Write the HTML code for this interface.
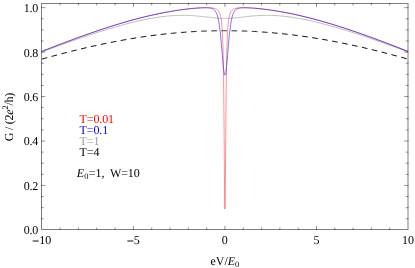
<!DOCTYPE html>
<html><head><meta charset="utf-8"><title>plot</title>
<style>html,body{margin:0;padding:0;background:#fff;width:415px;height:268px;overflow:hidden;font-family:"Liberation Serif",serif}</style>
</head><body>
<svg width="415" height="268" viewBox="0 0 415 268" style="display:block;position:absolute;left:0;top:0;will-change:transform">
<rect width="415" height="268" fill="#fff"/>
<defs><clipPath id="c"><rect x="41.50" y="3.50" width="366.50" height="226.00"/></clipPath></defs>
<g clip-path="url(#c)" fill="none" stroke-linejoin="round">
<path d="M41.85 59.11L41.95 59.08L44.95 58.25L47.95 57.42L50.95 56.61L53.95 55.80L56.95 55L59.95 54.21L62.95 53.43L65.95 52.66L68.95 51.90L71.95 51.15L74.95 50.41L77.95 49.67L80.95 48.95L83.95 48.24L86.95 47.54L89.95 46.86L92.95 46.18L95.95 45.52L98.95 44.86L101.95 44.22L104.95 43.60L107.95 42.98L110.95 42.38L113.95 41.80L116.95 41.22L119.95 40.66L122.95 40.11L125.95 39.58L128.95 39.06L131.95 38.56L134.95 38.07L137.95 37.59L140.95 37.14L143.95 36.69L146.95 36.26L149.95 35.85L152.95 35.45L155.95 35.06L158.95 34.70L161.95 34.35L164.95 34.01L166.45 33.85L167.95 33.69L169.45 33.54L170.95 33.39L172.45 33.24L173.95 33.10L175.45 32.96L176.95 32.83L178.45 32.70L179.95 32.57L181.45 32.45L182.95 32.33L184.45 32.22L185.95 32.11L187.45 32L188.95 31.90L190.45 31.80L191.95 31.71L193.45 31.62L194.95 31.54L195.45 31.51L195.95 31.48L196.45 31.46L196.95 31.43L197.45 31.40L197.95 31.38L198.45 31.35L198.95 31.33L199.45 31.31L199.95 31.28L200.45 31.26L200.95 31.24L201.45 31.22L201.95 31.19L202.45 31.17L202.95 31.15L203.45 31.13L203.95 31.11L204.45 31.09L204.95 31.08L205.45 31.06L205.95 31.04L206.45 31.02L206.95 31.01L207.45 30.99L207.95 30.97L208.45 30.96L208.95 30.94L209.45 30.93L209.95 30.91L210.45 30.90L210.95 30.89L211.45 30.88L211.95 30.86L212.45 30.85L212.95 30.84L213.45 30.83L213.95 30.82L214.45 30.81L214.95 30.80L215.45 30.79L215.95 30.78L216.45 30.77L216.95 30.77L217.20 30.76L217.45 30.76L217.70 30.76L217.95 30.75L218.20 30.75L218.45 30.75L218.70 30.74L218.95 30.74L219.20 30.74L219.45 30.74L219.70 30.73L219.95 30.73L220.20 30.73L220.45 30.73L220.70 30.72L220.95 30.72L221.20 30.72L221.45 30.72L221.70 30.72L221.95 30.72L222.05 30.72L222.15 30.71L222.25 30.71L222.35 30.71L222.45 30.71L222.55 30.71L222.65 30.71L222.75 30.71L222.85 30.71L222.95 30.71L223.05 30.71L223.15 30.71L223.25 30.71L223.35 30.71L223.45 30.71L223.55 30.71L223.65 30.71L223.75 30.71L223.85 30.71L223.95 30.71L224.05 30.71L224.15 30.71L224.25 30.71L224.35 30.71L224.45 30.71L224.55 30.71L224.65 30.71L224.75 30.71L224.85 30.71L224.95 30.71L225.05 30.71L225.15 30.71L225.25 30.71L225.35 30.71L225.45 30.71L225.55 30.71L225.65 30.71L225.75 30.71L225.85 30.71L225.95 30.71L226.05 30.71L226.15 30.71L226.25 30.71L226.35 30.71L226.45 30.71L226.55 30.71L226.65 30.71L226.75 30.71L226.85 30.71L226.95 30.71L227.05 30.71L227.15 30.71L227.25 30.71L227.35 30.71L227.45 30.71L227.55 30.71L227.65 30.71L227.75 30.71L227.85 30.72L227.95 30.72L228.20 30.72L228.45 30.72L228.70 30.72L228.95 30.72L229.20 30.72L229.45 30.73L229.70 30.73L229.95 30.73L230.20 30.73L230.45 30.74L230.70 30.74L230.95 30.74L231.20 30.74L231.45 30.75L231.70 30.75L231.95 30.75L232.20 30.76L232.45 30.76L232.70 30.76L232.95 30.77L233.45 30.77L233.95 30.78L234.45 30.79L234.95 30.80L235.45 30.81L235.95 30.82L236.45 30.83L236.95 30.84L237.45 30.85L237.95 30.86L238.45 30.88L238.95 30.89L239.45 30.90L239.95 30.91L240.45 30.93L240.95 30.94L241.45 30.96L241.95 30.97L242.45 30.99L242.95 31.01L243.45 31.02L243.95 31.04L244.45 31.06L244.95 31.08L245.45 31.09L245.95 31.11L246.45 31.13L246.95 31.15L247.45 31.17L247.95 31.19L248.45 31.22L248.95 31.24L249.45 31.26L249.95 31.28L250.45 31.31L250.95 31.33L251.45 31.35L251.95 31.38L252.45 31.40L252.95 31.43L253.45 31.46L253.95 31.48L254.45 31.51L254.95 31.54L256.45 31.62L257.95 31.71L259.45 31.80L260.95 31.90L262.45 32L263.95 32.11L265.45 32.22L266.95 32.33L268.45 32.45L269.95 32.57L271.45 32.70L272.95 32.83L274.45 32.96L275.95 33.10L277.45 33.24L278.95 33.39L280.45 33.54L281.95 33.69L283.45 33.85L284.95 34.01L287.95 34.35L290.95 34.70L293.95 35.06L296.95 35.45L299.95 35.85L302.95 36.26L305.95 36.69L308.95 37.14L311.95 37.59L314.95 38.07L317.95 38.56L320.95 39.06L323.95 39.58L326.95 40.11L329.95 40.66L332.95 41.22L335.95 41.80L338.95 42.38L341.95 42.98L344.95 43.60L347.95 44.22L350.95 44.86L353.95 45.52L356.95 46.18L359.95 46.86L362.95 47.54L365.95 48.24L368.95 48.95L371.95 49.67L374.95 50.41L377.95 51.15L380.95 51.90L383.95 52.66L386.95 53.43L389.95 54.21L392.95 55L395.95 55.80L398.95 56.61L401.95 57.42L404.95 58.25L407.95 59.08L408.05 59.11" stroke="#000" stroke-width="0.95" stroke-dasharray="5.65 4.48"/>
<path d="M41.85 52.05L41.95 52.01L44.95 50.88L47.95 49.76L50.95 48.65L53.95 47.54L56.95 46.43L59.95 45.33L62.95 44.24L65.95 43.16L68.95 42.09L71.95 41.02L74.95 39.97L77.95 38.92L80.95 37.89L83.95 36.86L86.95 35.85L89.95 34.85L92.95 33.86L95.95 32.89L98.95 31.93L101.95 30.98L104.95 30.05L107.95 29.14L110.95 28.24L113.95 27.37L116.95 26.51L119.95 25.67L122.95 24.85L125.95 24.05L128.95 23.28L131.95 22.53L134.95 21.81L137.95 21.11L140.95 20.44L143.95 19.80L146.95 19.19L149.95 18.62L152.95 18.08L155.95 17.58L158.95 17.13L161.95 16.71L164.95 16.35L166.45 16.18L167.95 16.03L169.45 15.89L170.95 15.77L172.45 15.66L173.95 15.56L175.45 15.48L176.95 15.41L178.45 15.36L179.95 15.33L181.45 15.31L182.95 15.30L184.45 15.32L185.95 15.34L187.45 15.39L188.95 15.45L190.45 15.52L191.95 15.61L193.45 15.71L194.95 15.83L195.45 15.87L195.95 15.91L196.45 15.95L196.95 16L197.45 16.04L197.95 16.09L198.45 16.14L198.95 16.19L199.45 16.24L199.95 16.29L200.45 16.34L200.95 16.40L201.45 16.45L201.95 16.50L202.45 16.56L202.95 16.61L203.45 16.67L203.95 16.72L204.45 16.78L204.95 16.84L205.45 16.89L205.95 16.95L206.45 17.01L206.95 17.06L207.45 17.12L207.95 17.18L208.45 17.23L208.95 17.29L209.45 17.34L209.95 17.40L210.45 17.45L210.95 17.50L211.45 17.56L211.95 17.61L212.45 17.66L212.95 17.71L213.45 17.75L213.95 17.80L214.45 17.85L214.95 17.89L215.45 17.93L215.95 17.97L216.45 18.01L216.95 18.05L217.20 18.07L217.45 18.08L217.70 18.10L217.95 18.12L218.20 18.13L218.45 18.15L218.70 18.17L218.95 18.18L219.20 18.19L219.45 18.21L219.70 18.22L219.95 18.23L220.20 18.25L220.45 18.26L220.70 18.27L220.95 18.28L221.20 18.29L221.45 18.30L221.70 18.31L221.95 18.32L222.05 18.32L222.15 18.32L222.25 18.33L222.35 18.33L222.45 18.33L222.55 18.34L222.65 18.34L222.75 18.34L222.85 18.34L222.95 18.35L223.05 18.35L223.15 18.35L223.25 18.35L223.35 18.36L223.45 18.36L223.55 18.36L223.65 18.36L223.75 18.36L223.85 18.36L223.95 18.37L224.05 18.37L224.15 18.37L224.25 18.37L224.35 18.37L224.45 18.37L224.55 18.37L224.65 18.37L224.75 18.38L224.85 18.38L224.95 18.38L225.05 18.38L225.15 18.38L225.25 18.37L225.35 18.37L225.45 18.37L225.55 18.37L225.65 18.37L225.75 18.37L225.85 18.37L225.95 18.37L226.05 18.36L226.15 18.36L226.25 18.36L226.35 18.36L226.45 18.36L226.55 18.36L226.65 18.35L226.75 18.35L226.85 18.35L226.95 18.35L227.05 18.34L227.15 18.34L227.25 18.34L227.35 18.34L227.45 18.33L227.55 18.33L227.65 18.33L227.75 18.32L227.85 18.32L227.95 18.32L228.20 18.31L228.45 18.30L228.70 18.29L228.95 18.28L229.20 18.27L229.45 18.26L229.70 18.25L229.95 18.23L230.20 18.22L230.45 18.21L230.70 18.19L230.95 18.18L231.20 18.17L231.45 18.15L231.70 18.13L231.95 18.12L232.20 18.10L232.45 18.08L232.70 18.07L232.95 18.05L233.45 18.01L233.95 17.97L234.45 17.93L234.95 17.89L235.45 17.85L235.95 17.80L236.45 17.75L236.95 17.71L237.45 17.66L237.95 17.61L238.45 17.56L238.95 17.50L239.45 17.45L239.95 17.40L240.45 17.34L240.95 17.29L241.45 17.23L241.95 17.18L242.45 17.12L242.95 17.06L243.45 17.01L243.95 16.95L244.45 16.89L244.95 16.84L245.45 16.78L245.95 16.72L246.45 16.67L246.95 16.61L247.45 16.56L247.95 16.50L248.45 16.45L248.95 16.40L249.45 16.34L249.95 16.29L250.45 16.24L250.95 16.19L251.45 16.14L251.95 16.09L252.45 16.04L252.95 16L253.45 15.95L253.95 15.91L254.45 15.87L254.95 15.83L256.45 15.71L257.95 15.61L259.45 15.52L260.95 15.45L262.45 15.39L263.95 15.34L265.45 15.32L266.95 15.30L268.45 15.31L269.95 15.33L271.45 15.36L272.95 15.41L274.45 15.48L275.95 15.56L277.45 15.66L278.95 15.77L280.45 15.89L281.95 16.03L283.45 16.18L284.95 16.35L287.95 16.71L290.95 17.13L293.95 17.58L296.95 18.08L299.95 18.62L302.95 19.19L305.95 19.80L308.95 20.44L311.95 21.11L314.95 21.81L317.95 22.53L320.95 23.28L323.95 24.05L326.95 24.85L329.95 25.67L332.95 26.51L335.95 27.37L338.95 28.24L341.95 29.14L344.95 30.05L347.95 30.98L350.95 31.93L353.95 32.89L356.95 33.86L359.95 34.85L362.95 35.85L365.95 36.86L368.95 37.89L371.95 38.92L374.95 39.97L377.95 41.02L380.95 42.09L383.95 43.16L386.95 44.24L389.95 45.33L392.95 46.43L395.95 47.54L398.95 48.65L401.95 49.76L404.95 50.88L407.95 52.01L408.05 52.05" stroke="#949494" stroke-width="0.6"/>
<path d="M41.85 51.39L41.95 51.35L44.95 50.18L47.95 49.01L50.95 47.85L53.95 46.69L56.95 45.54L59.95 44.39L62.95 43.25L65.95 42.12L68.95 40.99L71.95 39.88L74.95 38.77L77.95 37.67L80.95 36.58L83.95 35.51L86.95 34.44L89.95 33.38L92.95 32.34L95.95 31.31L98.95 30.29L101.95 29.29L104.95 28.30L107.95 27.33L110.95 26.37L113.95 25.43L116.95 24.50L119.95 23.60L122.95 22.71L125.95 21.83L128.95 20.98L131.95 20.15L134.95 19.34L137.95 18.55L140.95 17.78L143.95 17.03L146.95 16.30L149.95 15.60L152.95 14.92L155.95 14.27L158.95 13.64L161.95 13.03L164.95 12.45L166.45 12.17L167.95 11.90L169.45 11.63L170.95 11.37L172.45 11.12L173.95 10.87L175.45 10.64L176.95 10.40L178.45 10.18L179.95 9.96L181.45 9.75L182.95 9.55L184.45 9.36L185.95 9.17L187.45 8.99L188.95 8.82L190.45 8.66L191.95 8.51L193.45 8.37L194.95 8.24L195.45 8.19L195.95 8.15L196.45 8.11L196.95 8.08L197.45 8.04L197.95 8L198.45 7.97L198.95 7.93L199.45 7.90L199.95 7.87L200.45 7.84L200.95 7.82L201.45 7.79L201.95 7.77L202.45 7.75L202.95 7.73L203.45 7.71L203.95 7.69L204.45 7.68L204.95 7.67L205.45 7.66L205.95 7.65L206.45 7.65L206.95 7.65L207.45 7.66L207.95 7.66L208.45 7.68L208.95 7.69L209.45 7.71L209.95 7.74L210.45 7.77L210.95 7.82L211.45 7.86L211.95 7.92L212.45 7.99L212.95 8.07L213.45 8.17L213.95 8.28L214.45 8.41L214.95 8.57L215.45 8.75L215.95 8.97L216.45 9.24L216.95 9.55L217.20 9.74L217.45 9.94L217.70 10.16L217.95 10.41L218.20 10.69L218.45 11L218.70 11.35L218.95 11.74L219.20 12.19L219.45 12.70L219.70 13.28L219.95 13.95L220.20 14.72L220.45 15.62L220.70 16.68L220.95 17.94L221.20 19.45L221.45 21.27L221.70 23.50L221.95 26.27L222.05 27.56L222.15 28.99L222.25 30.55L222.35 32.28L222.45 34.19L222.55 36.32L222.65 38.68L222.75 41.32L222.85 44.28L222.95 47.59L223.05 51.31L223.15 55.50L223.25 60.23L223.35 65.56L223.45 71.57L223.55 78.34L223.65 85.94L223.75 94.43L223.85 103.85L223.95 114.19L224.05 125.40L224.15 137.33L224.25 149.74L224.35 162.27L224.45 174.44L224.55 185.67L224.65 195.34L224.75 202.79L224.85 207.51L224.95 209.13L225.05 207.51L225.15 202.79L225.25 195.34L225.35 185.67L225.45 174.44L225.55 162.27L225.65 149.74L225.75 137.33L225.85 125.40L225.95 114.19L226.05 103.85L226.15 94.43L226.25 85.94L226.35 78.34L226.45 71.57L226.55 65.56L226.65 60.23L226.75 55.50L226.85 51.31L226.95 47.59L227.05 44.28L227.15 41.32L227.25 38.68L227.35 36.32L227.45 34.19L227.55 32.28L227.65 30.55L227.75 28.99L227.85 27.56L227.95 26.27L228.20 23.50L228.45 21.27L228.70 19.45L228.95 17.94L229.20 16.68L229.45 15.62L229.70 14.72L229.95 13.95L230.20 13.28L230.45 12.70L230.70 12.19L230.95 11.74L231.20 11.35L231.45 11L231.70 10.69L231.95 10.41L232.20 10.16L232.45 9.94L232.70 9.74L232.95 9.55L233.45 9.24L233.95 8.97L234.45 8.75L234.95 8.57L235.45 8.41L235.95 8.28L236.45 8.17L236.95 8.07L237.45 7.99L237.95 7.92L238.45 7.86L238.95 7.82L239.45 7.77L239.95 7.74L240.45 7.71L240.95 7.69L241.45 7.68L241.95 7.66L242.45 7.66L242.95 7.65L243.45 7.65L243.95 7.65L244.45 7.66L244.95 7.67L245.45 7.68L245.95 7.69L246.45 7.71L246.95 7.73L247.45 7.75L247.95 7.77L248.45 7.79L248.95 7.82L249.45 7.84L249.95 7.87L250.45 7.90L250.95 7.93L251.45 7.97L251.95 8L252.45 8.04L252.95 8.08L253.45 8.11L253.95 8.15L254.45 8.19L254.95 8.24L256.45 8.37L257.95 8.51L259.45 8.66L260.95 8.82L262.45 8.99L263.95 9.17L265.45 9.36L266.95 9.55L268.45 9.75L269.95 9.96L271.45 10.18L272.95 10.40L274.45 10.64L275.95 10.87L277.45 11.12L278.95 11.37L280.45 11.63L281.95 11.90L283.45 12.17L284.95 12.45L287.95 13.03L290.95 13.64L293.95 14.27L296.95 14.92L299.95 15.60L302.95 16.30L305.95 17.03L308.95 17.78L311.95 18.55L314.95 19.34L317.95 20.15L320.95 20.98L323.95 21.83L326.95 22.71L329.95 23.60L332.95 24.50L335.95 25.43L338.95 26.37L341.95 27.33L344.95 28.30L347.95 29.29L350.95 30.29L353.95 31.31L356.95 32.34L359.95 33.38L362.95 34.44L365.95 35.51L368.95 36.58L371.95 37.67L374.95 38.77L377.95 39.88L380.95 40.99L383.95 42.12L386.95 43.25L389.95 44.39L392.95 45.54L395.95 46.69L398.95 47.85L401.95 49.01L404.95 50.18L407.95 51.35L408.05 51.39" stroke="#ff0000" stroke-width="0.44"/>
<path d="M41.85 51.39L41.95 51.35L44.95 50.18L47.95 49.01L50.95 47.85L53.95 46.69L56.95 45.54L59.95 44.39L62.95 43.25L65.95 42.12L68.95 41L71.95 39.88L74.95 38.78L77.95 37.68L80.95 36.59L83.95 35.51L86.95 34.45L89.95 33.39L92.95 32.35L95.95 31.32L98.95 30.30L101.95 29.30L104.95 28.31L107.95 27.34L110.95 26.38L113.95 25.44L116.95 24.51L119.95 23.61L122.95 22.72L125.95 21.85L128.95 20.99L131.95 20.16L134.95 19.35L137.95 18.56L140.95 17.79L143.95 17.04L146.95 16.32L149.95 15.61L152.95 14.94L155.95 14.28L158.95 13.65L161.95 13.05L164.95 12.47L166.45 12.19L167.95 11.91L169.45 11.65L170.95 11.39L172.45 11.14L173.95 10.89L175.45 10.65L176.95 10.42L178.45 10.20L179.95 9.98L181.45 9.77L182.95 9.57L184.45 9.38L185.95 9.19L187.45 9.01L188.95 8.85L190.45 8.69L191.95 8.53L193.45 8.39L194.95 8.26L195.45 8.22L195.95 8.18L196.45 8.14L196.95 8.10L197.45 8.07L197.95 8.03L198.45 8L198.95 7.97L199.45 7.94L199.95 7.91L200.45 7.88L200.95 7.86L201.45 7.83L201.95 7.81L202.45 7.79L202.95 7.78L203.45 7.76L203.95 7.75L204.45 7.75L204.95 7.74L205.45 7.74L205.95 7.74L206.45 7.75L206.95 7.77L207.45 7.79L207.95 7.81L208.45 7.85L208.95 7.90L209.45 7.95L209.95 8.02L210.45 8.11L210.95 8.22L211.45 8.35L211.95 8.52L212.45 8.71L212.95 8.96L213.45 9.26L213.95 9.62L214.45 10.07L214.95 10.62L215.45 11.30L215.95 12.13L216.45 13.16L216.95 14.41L217.20 15.14L217.45 15.95L217.70 16.84L217.95 17.82L218.20 18.91L218.45 20.09L218.70 21.40L218.95 22.83L219.20 24.38L219.45 26.08L219.70 27.92L219.95 29.90L220.20 32.04L220.45 34.32L220.70 36.75L220.95 39.32L221.20 42.02L221.45 44.83L221.70 47.73L221.95 50.70L222.05 51.89L222.15 53.09L222.25 54.29L222.35 55.48L222.45 56.67L222.55 57.85L222.65 59.02L222.75 60.17L222.85 61.30L222.95 62.42L223.05 63.51L223.15 64.56L223.25 65.59L223.35 66.58L223.45 67.54L223.55 68.45L223.65 69.31L223.75 70.12L223.85 70.89L223.95 71.60L224.05 72.24L224.15 72.83L224.25 73.36L224.35 73.82L224.45 74.21L224.55 74.54L224.65 74.79L224.75 74.97L224.85 75.08L224.95 75.12L225.05 75.08L225.15 74.97L225.25 74.79L225.35 74.54L225.45 74.21L225.55 73.82L225.65 73.36L225.75 72.83L225.85 72.24L225.95 71.60L226.05 70.89L226.15 70.12L226.25 69.31L226.35 68.45L226.45 67.54L226.55 66.58L226.65 65.59L226.75 64.56L226.85 63.51L226.95 62.42L227.05 61.30L227.15 60.17L227.25 59.02L227.35 57.85L227.45 56.67L227.55 55.48L227.65 54.29L227.75 53.09L227.85 51.89L227.95 50.70L228.20 47.73L228.45 44.83L228.70 42.02L228.95 39.32L229.20 36.75L229.45 34.32L229.70 32.04L229.95 29.90L230.20 27.92L230.45 26.08L230.70 24.38L230.95 22.83L231.20 21.40L231.45 20.09L231.70 18.91L231.95 17.82L232.20 16.84L232.45 15.95L232.70 15.14L232.95 14.41L233.45 13.16L233.95 12.13L234.45 11.30L234.95 10.62L235.45 10.07L235.95 9.62L236.45 9.26L236.95 8.96L237.45 8.71L237.95 8.52L238.45 8.35L238.95 8.22L239.45 8.11L239.95 8.02L240.45 7.95L240.95 7.90L241.45 7.85L241.95 7.81L242.45 7.79L242.95 7.77L243.45 7.75L243.95 7.74L244.45 7.74L244.95 7.74L245.45 7.75L245.95 7.75L246.45 7.76L246.95 7.78L247.45 7.79L247.95 7.81L248.45 7.83L248.95 7.86L249.45 7.88L249.95 7.91L250.45 7.94L250.95 7.97L251.45 8L251.95 8.03L252.45 8.07L252.95 8.10L253.45 8.14L253.95 8.18L254.45 8.22L254.95 8.26L256.45 8.39L257.95 8.53L259.45 8.69L260.95 8.85L262.45 9.01L263.95 9.19L265.45 9.38L266.95 9.57L268.45 9.77L269.95 9.98L271.45 10.20L272.95 10.42L274.45 10.65L275.95 10.89L277.45 11.14L278.95 11.39L280.45 11.65L281.95 11.91L283.45 12.19L284.95 12.47L287.95 13.05L290.95 13.65L293.95 14.28L296.95 14.94L299.95 15.61L302.95 16.32L305.95 17.04L308.95 17.79L311.95 18.56L314.95 19.35L317.95 20.16L320.95 20.99L323.95 21.85L326.95 22.72L329.95 23.61L332.95 24.51L335.95 25.44L338.95 26.38L341.95 27.34L344.95 28.31L347.95 29.30L350.95 30.30L353.95 31.32L356.95 32.35L359.95 33.39L362.95 34.45L365.95 35.51L368.95 36.59L371.95 37.68L374.95 38.78L377.95 39.88L380.95 41L383.95 42.12L386.95 43.25L389.95 44.39L392.95 45.54L395.95 46.69L398.95 47.85L401.95 49.01L404.95 50.18L407.95 51.35L408.05 51.39" stroke="#0000ff" stroke-width="0.54"/>
</g>
<g stroke="#000" stroke-opacity="0.5" stroke-width="1" fill="none">
<rect x="41.50" y="3.50" width="366.50" height="226.00"/>
</g>
<path d="M60.16 230.00 v-2.50 M60.16 3.00 v2.50 M78.47 230.00 v-2.50 M78.47 3.00 v2.50 M96.78 230.00 v-2.50 M96.78 3.00 v2.50 M115.09 230.00 v-2.50 M115.09 3.00 v2.50 M133.40 230.00 v-4.10 M133.40 3.00 v4.10 M151.71 230.00 v-2.50 M151.71 3.00 v2.50 M170.02 230.00 v-2.50 M170.02 3.00 v2.50 M188.33 230.00 v-2.50 M188.33 3.00 v2.50 M206.64 230.00 v-2.50 M206.64 3.00 v2.50 M224.95 230.00 v-4.10 M224.95 3.00 v4.10 M243.26 230.00 v-2.50 M243.26 3.00 v2.50 M261.57 230.00 v-2.50 M261.57 3.00 v2.50 M279.88 230.00 v-2.50 M279.88 3.00 v2.50 M298.19 230.00 v-2.50 M298.19 3.00 v2.50 M316.50 230.00 v-4.10 M316.50 3.00 v4.10 M334.81 230.00 v-2.50 M334.81 3.00 v2.50 M353.12 230.00 v-2.50 M353.12 3.00 v2.50 M371.43 230.00 v-2.50 M371.43 3.00 v2.50 M389.74 230.00 v-2.50 M389.74 3.00 v2.50 M41.00 218.79 h2.70 M408.50 218.79 h-2.70 M41.00 207.68 h2.70 M408.50 207.68 h-2.70 M41.00 196.56 h2.70 M408.50 196.56 h-2.70 M41.00 185.45 h4.30 M408.50 185.45 h-4.30 M41.00 174.34 h2.70 M408.50 174.34 h-2.70 M41.00 163.22 h2.70 M408.50 163.22 h-2.70 M41.00 152.11 h2.70 M408.50 152.11 h-2.70 M41.00 141.00 h4.30 M408.50 141.00 h-4.30 M41.00 129.89 h2.70 M408.50 129.89 h-2.70 M41.00 118.78 h2.70 M408.50 118.78 h-2.70 M41.00 107.66 h2.70 M408.50 107.66 h-2.70 M41.00 96.55 h4.30 M408.50 96.55 h-4.30 M41.00 85.44 h2.70 M408.50 85.44 h-2.70 M41.00 74.32 h2.70 M408.50 74.32 h-2.70 M41.00 63.21 h2.70 M408.50 63.21 h-2.70 M41.00 52.10 h4.30 M408.50 52.10 h-4.30 M41.00 40.99 h2.70 M408.50 40.99 h-2.70 M41.00 29.88 h2.70 M408.50 29.88 h-2.70 M41.00 18.76 h2.70 M408.50 18.76 h-2.70 M41.00 7.65 h4.30 M408.50 7.65 h-4.30" stroke="#000" stroke-opacity="0.6" stroke-width="0.7" fill="none"/>
<g font-family="'Liberation Serif', serif" font-size="12.0" fill="#000" text-rendering="geometricPrecision" style="will-change:transform">
<text x="38.2" y="234.15" text-anchor="end" letter-spacing="-0.15">0.0</text>
<text x="38.2" y="189.50" text-anchor="end" letter-spacing="-0.15">0.2</text>
<text x="38.2" y="145.40" text-anchor="end" letter-spacing="-0.15">0.4</text>
<text x="38.2" y="100.70" text-anchor="end" letter-spacing="-0.15">0.6</text>
<text x="38.2" y="56.60" text-anchor="end" letter-spacing="-0.15">0.8</text>
<text x="38.2" y="12.15" text-anchor="end" letter-spacing="-0.15">1.0</text>
<text x="41.75" y="244.4" text-anchor="middle"><tspan dy="0.45" stroke="#000" stroke-width="0.3">−</tspan><tspan dy="-0.45">10</tspan></text>
<text x="133.30" y="244.4" text-anchor="middle"><tspan dy="0.45" stroke="#000" stroke-width="0.3">−</tspan><tspan dy="-0.45">5</tspan></text>
<text x="224.85" y="244.4" text-anchor="middle">0</text>
<text x="316.40" y="244.4" text-anchor="middle">5</text>
<text x="407.95" y="244.4" text-anchor="middle">10</text>
<text x="210.4" y="265.3">eV/<tspan font-style="italic">E</tspan><tspan font-size="8.4" dy="1.9">0</tspan></text>
<text transform="translate(13 141.2) rotate(-90)" letter-spacing="-0.24">G / (2<tspan font-style="italic">e</tspan><tspan font-size="8.4" dy="-4.6">2</tspan><tspan dy="4.6">/h)</tspan></text>
<text x="79.5" y="122.85" letter-spacing="-0.1" fill="#ff0000">T=0.01</text>
<text x="79.5" y="133.85" letter-spacing="-0.1" fill="#0000ff">T=0.1</text>
<text x="79.5" y="144.85" letter-spacing="-0.1" fill="#9c9c9c">T=1</text>
<text x="79.5" y="155.85" letter-spacing="-0.1" fill="#000">T=4</text>
<text x="76.8" y="177.3"><tspan font-style="italic">E</tspan><tspan font-size="8.4" dy="2.1">0</tspan><tspan dy="-2.1" dx="0.3">=1,</tspan><tspan dx="5.6" letter-spacing="-0.12">W=10</tspan></text>
</g>
</svg>
</body></html>
